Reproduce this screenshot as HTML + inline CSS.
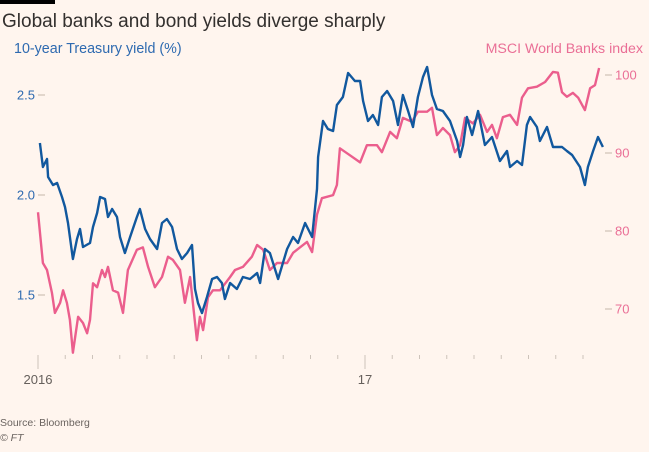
<!DOCTYPE html>
<html><head><meta charset="utf-8"><style>
html,body{margin:0;padding:0;background:#fff5ee;}
svg{display:block;font-family:"Liberation Sans",sans-serif;}
</style></head><body>
<svg id="chart" width="649" height="452" viewBox="0 0 649 452">
<rect width="649" height="452" fill="#fff5ee"/>
<rect x="0" y="0" width="55" height="4" fill="#000"/>
<text x="2" y="27" font-size="19" fill="#33302e">Global banks and bond yields diverge sharply</text>
<text x="14" y="53" font-size="14.3" fill="#2e6ab0">10-year Treasury yield (%)</text>
<text x="643" y="53" font-size="14.2" fill="#ea6f96" text-anchor="end">MSCI World Banks index</text>
<g id="axes"></g>
<g id="series"></g>
<text x="0" y="426" font-size="10.5" fill="#6b6460">Source: Bloomberg</text>
<text x="0" y="441" font-size="10.5" fill="#6b6460" font-style="italic">© FT</text>
</svg>
<script>
const blueT=[0.07,0.18,0.33,0.37,0.55,0.70,0.88,0.99,1.10,1.28,1.43,1.54,1.65,1.91,2.02,2.17,2.28,2.46,2.57,2.72,2.90,3.01,3.19,3.38,3.63,3.74,3.93,4.11,4.37,4.55,4.73,4.92,5.10,5.28,5.47,5.65,5.76,5.87,6.02,6.20,6.39,6.57,6.75,6.86,7.05,7.30,7.52,7.78,8.04,8.15,8.33,8.51,8.81,9.14,9.36,9.54,9.80,10.06,10.24,10.28,10.46,10.64,10.83,10.97,11.19,11.38,11.63,11.82,11.93,12.11,12.29,12.48,12.62,12.81,13.03,13.21,13.39,13.58,13.76,13.94,14.13,14.28,14.46,14.64,14.86,15.12,15.38,15.49,15.60,15.74,15.93,16.15,16.40,16.66,16.95,17.21,17.32,17.58,17.76,17.94,18.06,18.31,18.42,18.68,18.90,19.23,19.41,19.60,19.89,20.07,20.18,20.37,20.55,20.73];
const blueV=[2.26,2.14,2.18,2.09,2.05,2.06,1.99,1.94,1.86,1.68,1.78,1.83,1.74,1.76,1.84,1.91,1.99,1.98,1.89,1.93,1.89,1.79,1.71,1.79,1.89,1.93,1.83,1.78,1.73,1.86,1.88,1.84,1.73,1.68,1.71,1.75,1.53,1.46,1.41,1.49,1.58,1.59,1.56,1.48,1.56,1.53,1.59,1.58,1.61,1.56,1.73,1.71,1.58,1.73,1.79,1.76,1.86,1.79,2.03,2.19,2.37,2.33,2.32,2.45,2.49,2.61,2.57,2.57,2.47,2.37,2.40,2.35,2.49,2.52,2.47,2.35,2.50,2.42,2.34,2.49,2.59,2.64,2.50,2.43,2.42,2.37,2.27,2.19,2.25,2.39,2.30,2.42,2.25,2.29,2.17,2.22,2.14,2.17,2.15,2.35,2.39,2.34,2.27,2.34,2.24,2.24,2.22,2.20,2.14,2.05,2.14,2.22,2.29,2.24];
const pinkT=[0.0,0.18,0.33,0.51,0.62,0.81,0.92,1.06,1.17,1.28,1.47,1.65,1.80,1.91,2.02,2.17,2.35,2.46,2.57,2.75,2.94,3.12,3.30,3.63,3.85,4.04,4.29,4.55,4.77,4.95,5.21,5.39,5.58,5.83,5.94,6.06,6.24,6.42,6.68,7.05,7.23,7.52,7.85,8.04,8.26,8.51,8.77,9.14,9.36,9.61,9.87,10.06,10.24,10.42,10.83,10.97,11.08,11.45,11.82,12.07,12.44,12.62,12.92,13.17,13.39,13.72,13.94,14.28,14.46,14.64,14.86,15.12,15.30,15.49,15.67,15.96,16.22,16.48,16.66,16.84,17.06,17.32,17.58,17.76,17.98,18.31,18.61,18.90,19.08,19.23,19.41,19.63,19.82,20.07,20.26,20.44,20.59];
const pinkV=[82.4,75.9,75.0,72.1,69.5,70.8,72.4,70.8,68.6,64.4,69.0,68.2,66.9,68.6,73.3,72.8,75.0,74.1,75.4,72.4,72.1,69.5,75.0,77.6,77.9,75.4,72.8,74.1,76.7,76.3,75.0,70.8,74.1,66.0,69.0,67.3,71.5,72.4,72.4,74.1,75.0,75.4,76.7,78.2,77.6,75.0,75.9,75.9,77.2,77.9,78.6,77.3,82.1,84.2,84.6,85.9,90.6,89.7,88.8,91.0,91.0,90.1,92.7,91.9,94.5,94.0,95.3,95.3,95.8,92.3,93.2,92.3,90.1,91.0,94.5,93.8,94.9,92.7,93.6,91.9,94.6,94.9,93.6,97.1,98.3,98.5,99.1,100.4,100.3,97.8,97.2,97.7,97.1,95.5,98.3,98.7,100.9];
const leftTicks=[1.5,2.0,2.5];
const rightTicks=[70,80,90,100];
const monthTicks=[0,1,2,3,4,5,6,7,8,9,10,11,12,13,14,15,16,17,18,19,20];
const yearLabels=[{t:0,label:"2016"},{t:12,label:"17"}];

const NS="http://www.w3.org/2000/svg";
const xS=t=>38+t*27.25;
const yL=v=>95+(2.5-v)*200;
const yR=v=>75+(100-v)*7.8;
const axes=document.getElementById('axes');
const series=document.getElementById('series');
function mk(tag,attrs,parent){const e=document.createElementNS(NS,tag);for(const k in attrs)e.setAttribute(k,attrs[k]);parent.appendChild(e);return e;}

leftTicks.forEach(v=>{
  const t=mk('text',{x:35,y:yL(v)+4.5,'font-size':13,fill:'#2e6ab0','text-anchor':'end'},axes);
  t.textContent=v.toFixed(1);
  
  
  const l=mk('line',{x1:38,x2:45,y1:yL(v),y2:yL(v),stroke:'#d8ccc0','stroke-width':1.5},axes);
  
  
});
rightTicks.forEach(v=>{
  const t=mk('text',{x:615,y:yR(v)+4.5,'font-size':13,fill:'#ea6f96'},axes);
  t.textContent=String(v);
  
  
  const l=mk('line',{x1:605,x2:612,y1:yR(v),y2:yR(v),stroke:'#d8ccc0','stroke-width':1.5},axes);
  
  
});
monthTicks.forEach(m=>{
  const major=(m%12===0);
  const l=mk('line',{x1:xS(m),x2:xS(m),y1:355,y2:major?369:359,stroke:'#cdc3ba','stroke-width':1},axes);
  
  
});
yearLabels.forEach(d=>{
  const t=mk('text',{x:xS(d.t),y:384,'font-size':13,fill:'#66605c','text-anchor':'middle'},axes);
  t.textContent=d.label;
  
  
});
function path(T,V,ys){return T.map((t,i)=>(i?'L':'M')+xS(t).toFixed(1)+' '+ys(V[i]).toFixed(1)).join(' ');}
const pp=mk('path',{d:path(pinkT,pinkV,yR),fill:'none',stroke:'#eb5e8d','stroke-width':2.4,'stroke-linejoin':'round'},series);


const bp=mk('path',{d:path(blueT,blueV,yL),fill:'none',stroke:'#11589e','stroke-width':2.4,'stroke-linejoin':'round'},series);


</script>
</body></html>
